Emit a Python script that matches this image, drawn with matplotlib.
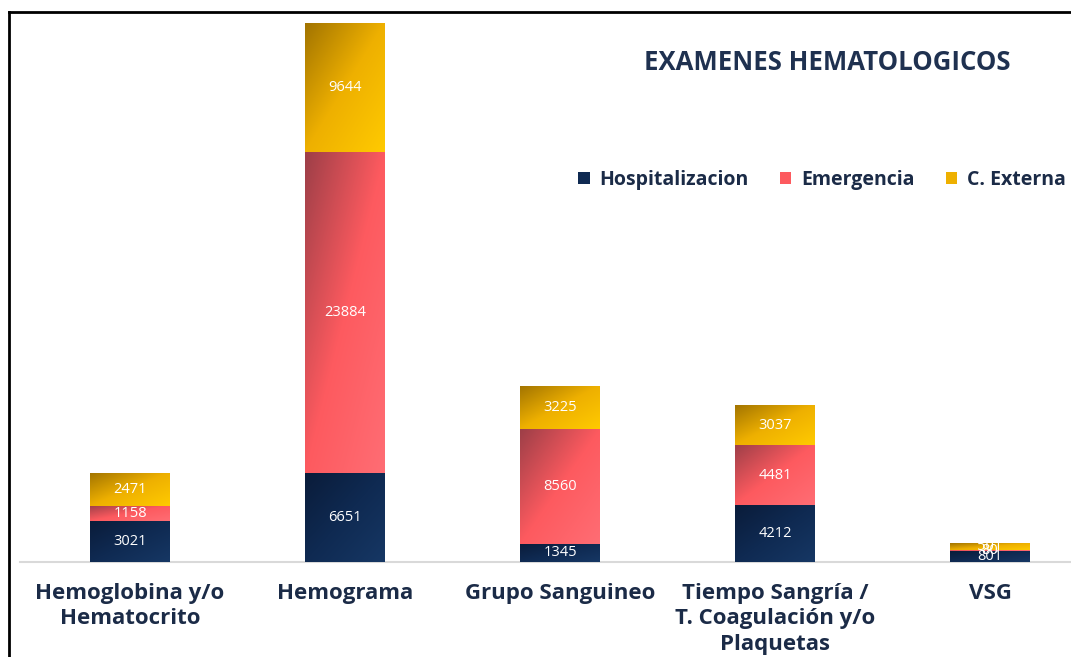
import numpy as np
import matplotlib
matplotlib.use("Agg")
import matplotlib.pyplot as plt
from matplotlib.colors import LinearSegmentedColormap
from matplotlib.lines import Line2D

categories = [
    "Hemoglobina y/o\nHematocrito",
    "Hemograma",
    "Grupo Sanguineo",
    "Tiempo Sangría /\nT. Coagulación y/o\nPlaquetas",
    "VSG",
]
series_names = ["Hospitalizacion", "Emergencia", "C. Externa"]
hospitalizacion = [3021, 6651, 1345, 4212, 801]
emergencia = [1158, 23884, 8560, 4481, 80]
externa = [2471, 9644, 3225, 3037, 501]

# gradient stops per series: top-left dark -> main -> bottom-right light
grad_colors = [
    ["#0a1c3a", "#0f2a52", "#163764"],
    ["#9e3f48", "#fd5a5f", "#ff6d74"],
    ["#a27400", "#eeb000", "#ffca00"],
]
main_colors = ["#0f2a52", "#fd5a5f", "#eeb000"]
text_color = "#1b2b47"

plt.rcParams["font.family"] = ["Open Sans", "DejaVu Sans"]

fig = plt.figure(figsize=(10.71, 6.57), dpi=100)
ax = fig.add_axes([20 / 1071, (657 - 562) / 657, 1051 / 1071, (562 - 23) / 657])

x = np.arange(len(categories))
width = 0.372
bottoms = np.zeros(len(categories))
u, v = np.meshgrid(np.linspace(0, 1, 60), np.linspace(0, 1, 60))
t = (u + v) / 2  # image origin upper: v=0 is top

for values, name, stops, col in zip(
    [hospitalizacion, emergencia, externa], series_names, grad_colors, main_colors
):
    cmap = LinearSegmentedColormap.from_list(name, stops)
    bars = ax.bar(x, values, width, bottom=bottoms, color=col, label=name,
                  linewidth=0, zorder=2)
    for b, val in zip(bars, values):
        x0, y0 = b.get_x(), b.get_y()
        w, h = b.get_width(), b.get_height()
        im = ax.imshow(t, cmap=cmap, extent=(x0, x0 + w, y0, y0 + h),
                       aspect="auto", origin="upper", zorder=3,
                       interpolation="bilinear")
        im.set_clip_path(b)
        ax.text(x0 + w / 2, y0 + h / 2, str(val), ha="center", va="center",
                color="white", fontsize=10.5, zorder=5)
    bottoms += np.array(values)

ax.set_xlim(-0.512, 4.377)
ax.set_ylim(0, 40179)
ax.set_xticks(x)
ax.set_xticklabels(categories, fontsize=16, fontweight="bold", color=text_color,
                   linespacing=1.28)
ax.tick_params(axis="x", length=0, pad=15)
ax.set_yticks([])
for side in ["top", "right", "left"]:
    ax.spines[side].set_visible(False)
ax.spines["bottom"].set_color("#d9d9d9")
ax.spines["bottom"].set_linewidth(1.5)

fig.text(827 / 1071, 1 - 62 / 657, "EXAMENES HEMATOLOGICOS", ha="center",
         va="center", fontsize=18.5, fontweight="bold", color="#1f3150")

leg = fig.legend(loc="center right", bbox_to_anchor=(1066 / 1071, 1 - 180 / 657),
                 ncol=3, frameon=False, fontsize=14, handlelength=0.6,
                 handleheight=0.6, handletextpad=0.5, columnspacing=1.6,
                 borderaxespad=0, borderpad=0)
for txt in leg.get_texts():
    txt.set_fontweight("bold")
    txt.set_color(text_color)

# outer frame of the original picture
fig.add_artist(Line2D([9 / 1071, 9 / 1071], [0, 1 - 12 / 657], color="black",
                      lw=2, transform=fig.transFigure))
fig.add_artist(Line2D([9 / 1071, 1], [1 - 12 / 657, 1 - 12 / 657], color="black",
                      lw=2, transform=fig.transFigure))

fig.savefig("out.png", dpi=100)
